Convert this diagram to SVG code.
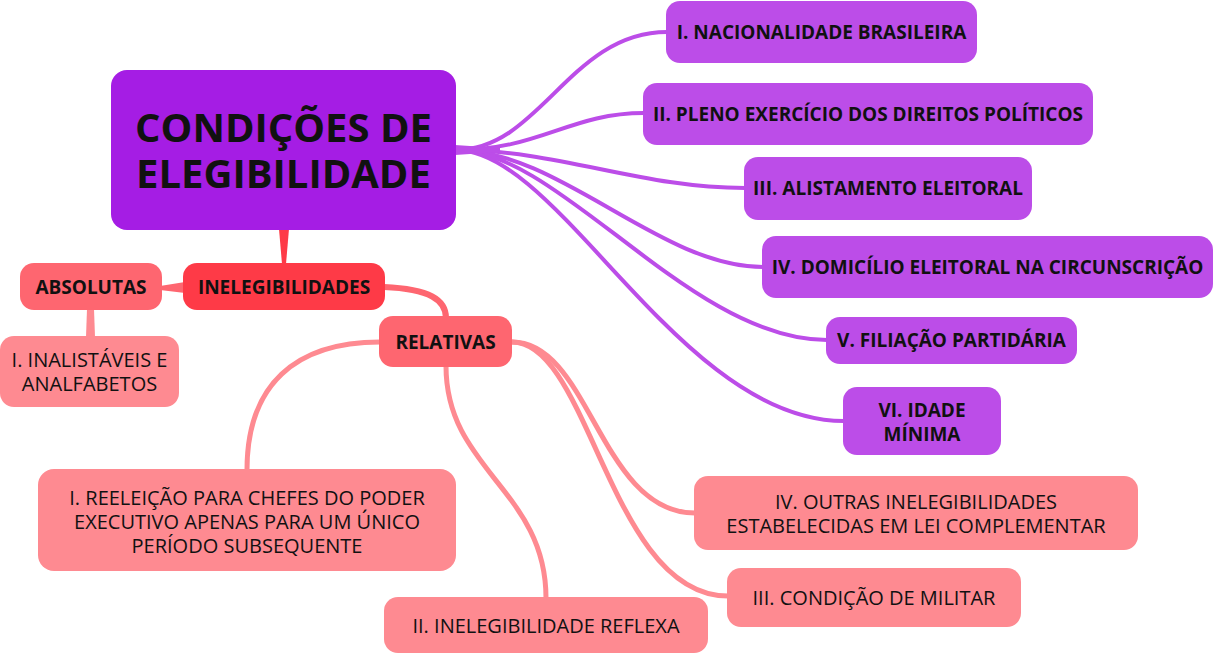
<svg xmlns="http://www.w3.org/2000/svg" width="1213" height="654" viewBox="0 0 1213 654">
<style>
text{font-family:"Open Sans","Noto Sans","Liberation Sans",sans-serif;fill:#111;text-anchor:middle}
.b{font-weight:700;font-size:19px}
.r{font-weight:400;font-size:20px}
.root{font-weight:700;font-size:40px}
.n0{fill:#a51de4}
.n1{fill:#bc4de8}
.n2{fill:#fe3a47}
.n3{fill:#fe6670}
.n4{fill:#fe8a91}
.lp{fill:none;stroke:#bc4de8;stroke-width:4;stroke-linecap:round}
.lk{fill:none;stroke:#fe8a91;stroke-width:5;stroke-linecap:round}
</style>
<rect width="1213" height="654" fill="#fff"/>
<g id="connectors">
<path class="lp" d="M456,150 C540,150 570,32 667,32"/>
<path class="lp" d="M456,150 C540,150 570,113 644,113"/>
<path class="lp" d="M456,150 C560,150 640,188 745,188"/>
<path class="lp" d="M456,150 C560,150 660,267 763,267"/>
<path class="lp" d="M456,150 C560,150 690,340 827,340"/>
<path class="lp" d="M456,150 C560,150 680,421 844,421"/>
<path d="M455,145 L455,155 L500,152 L500,148 Z" fill="#bc4de8"/>
<polygon points="279,229 289,229 286,264 282,264" fill="#fe3a47"/>
<polygon points="185,282 185,293 160,290 160,286" fill="#fe6670"/>
<path d="M384,287 C430,289 446,300 446,318" fill="none" stroke="#fe6670" stroke-width="6"/>
<polygon points="87,309 94,309 95,337 86,337" fill="#fe8a91"/>
<path class="lk" d="M380,342 C295,342 247,385 247,470"/>
<path class="lk" d="M446,366 C446,470 546,490 546,598"/>
<path class="lk" d="M512,342 C590,342 600,513 695,513"/>
<path class="lk" d="M512,342 C590,342 610,596 728,596"/>
</g>
<g id="root"><rect class="n0" x="111" y="70" width="345" height="160" rx="16"/><text class="root" x="283.5" y="142">CONDIÇÕES DE<tspan x="283.5" dy="46">ELEGIBILIDADE</tspan></text></g>
<g id="c1"><rect class="n1" x="666" y="1" width="311" height="62" rx="14"/><text class="b" x="821.5" y="39">I. NACIONALIDADE BRASILEIRA</text></g>
<g id="c2"><rect class="n1" x="643" y="83" width="450" height="62" rx="14"/><text class="b" x="868" y="121">II. PLENO EXERCÍCIO DOS DIREITOS POLÍTICOS</text></g>
<g id="c3"><rect class="n1" x="744" y="157" width="288" height="63" rx="14"/><text class="b" x="888" y="195">III. ALISTAMENTO ELEITORAL</text></g>
<g id="c4"><rect class="n1" x="762" y="236" width="451" height="62" rx="14"/><text class="b" x="987.5" y="274">IV. DOMICÍLIO ELEITORAL NA CIRCUNSCRIÇÃO</text></g>
<g id="c5"><rect class="n1" x="826" y="317" width="251" height="47" rx="14"/><text class="b" x="951.5" y="347">V. FILIAÇÃO PARTIDÁRIA</text></g>
<g id="c6"><rect class="n1" x="843" y="387" width="158" height="68" rx="14"/><text class="b" x="922" y="417">VI. IDADE<tspan x="922" dy="24">MÍNIMA</tspan></text></g>
<g id="inelegibilidades"><rect class="n2" x="183" y="263" width="202" height="47" rx="14"/><text class="b" x="284" y="294">INELEGIBILIDADES</text></g>
<g id="absolutas"><rect class="n3" x="20" y="263" width="142" height="47" rx="14"/><text class="b" x="91" y="294">ABSOLUTAS</text></g>
<g id="relativas"><rect class="n3" x="379" y="316" width="133" height="51" rx="14"/><text class="b" x="445.5" y="349">RELATIVAS</text></g>
<g id="inalistaveis"><rect class="n4" x="0" y="336" width="179" height="71" rx="14"/><text class="r" x="89.5" y="366.5">I. INALISTÁVEIS E<tspan x="89.5" dy="24">ANALFABETOS</tspan></text></g>
<g id="reeleicao"><rect class="n4" x="38" y="469" width="418" height="102" rx="16"/><text class="r" x="247" y="505">I. REELEIÇÃO PARA CHEFES DO PODER<tspan x="247" dy="24">EXECUTIVO APENAS PARA UM ÚNICO</tspan><tspan x="247" dy="24">PERÍODO SUBSEQUENTE</tspan></text></g>
<g id="reflexa"><rect class="n4" x="384" y="597" width="324" height="56" rx="14"/><text class="r" x="546" y="633">II. INELEGIBILIDADE REFLEXA</text></g>
<g id="outras"><rect class="n4" x="694" y="476" width="444" height="74" rx="14"/><text class="r" x="916" y="509">IV. OUTRAS INELEGIBILIDADES<tspan x="916" dy="24">ESTABELECIDAS EM LEI COMPLEMENTAR</tspan></text></g>
<g id="militar"><rect class="n4" x="727" y="568" width="294" height="59" rx="14"/><text class="r" x="874" y="605">III. CONDIÇÃO DE MILITAR</text></g>
</svg>
